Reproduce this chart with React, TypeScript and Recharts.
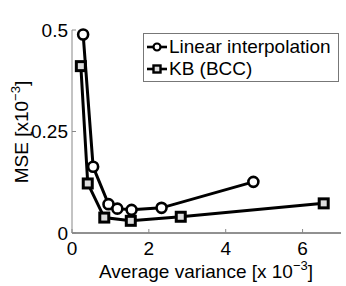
import { LineChart, Line, XAxis, YAxis, Legend } from "recharts";

const linearX = [0.29, 0.55, 0.95, 1.18, 1.55, 2.33, 4.72];
const linearMse = [0.489, 0.163, 0.071, 0.06, 0.057, 0.062, 0.126];
const kbX = [0.23, 0.41, 0.84, 1.53, 2.83, 6.55];
const kbMse = [0.411, 0.122, 0.038, 0.03, 0.04, 0.073];
const xTicks = [0, 2, 4, 6];
const yTicks = [0, 0.25, 0.5];

const linearData = linearX.map((x, i) => ({ x, y: linearMse[i] }));
const kbData = kbX.map((x, i) => ({ x, y: kbMse[i] }));

const FONT = "'Liberation Sans', Arial, Helvetica, sans-serif";
const tickStyle = { fontSize: 19, fill: "#000", fontFamily: FONT };

const Square = (props: any) => {
  const { cx, cy } = props;
  if (cx == null || cy == null) return null;
  return <rect x={cx - 4.5} y={cy - 4.5} width={9} height={9} fill="#ddd" stroke="#000" strokeWidth={3} />;
};

const CircleDot = (props: any) => {
  const { cx, cy } = props;
  if (cx == null || cy == null) return null;
  return <circle cx={cx} cy={cy} r={5} fill="#fff" stroke="#000" strokeWidth={2.6} />;
};

const LegendBox = () => (
  <div
    style={{
      border: "1px solid #777",
      background: "#fff",
      fontFamily: FONT,
      fontSize: 19,
      lineHeight: "22px",
      padding: "2px 2px 2px 3px",
      boxSizing: "border-box",
      width: 196,
      height: 49,
    }}
  >
    {[
      { name: "Linear interpolation", marker: "circle" },
      { name: "KB (BCC)", marker: "square" },
    ].map((item) => (
      <div key={item.name} style={{ display: "flex", alignItems: "center", height: 22 }}>
        <svg width={20} height={12} style={{ marginRight: 2 }}>
          <line x1={0} y1={6} x2={20} y2={6} stroke="#000" strokeWidth={2.6} />
          {item.marker === "circle" ? (
            <circle cx={10} cy={6} r={3.5} fill="#fff" stroke="#000" strokeWidth={2.2} />
          ) : (
            <rect x={6.5} y={2.5} width={7} height={7} fill="#ddd" stroke="#000" strokeWidth={2.4} />
          )}
        </svg>
        <span>{item.name}</span>
      </div>
    ))}
  </div>
);

export default function App() {
  return (
    <div style={{ position: "relative", width: 346, height: 286, background: "#fff" }}>
      <style>{"body{margin:0;}"}</style>
      <LineChart width={346} height={286} margin={{ top: 30, right: 5, left: 0, bottom: 0 }}>
        <XAxis
          xAxisId="bottom"
          type="number"
          dataKey="x"
          domain={[0, 7]}
          ticks={xTicks}
          height={53}
          tick={tickStyle}
          tickSize={-4}
          tickMargin={13}
          axisLine={{ stroke: "#222" }}
          tickLine={{ stroke: "#888" }}
        />
        <XAxis
          xAxisId="top"
          orientation="top"
          type="number"
          dataKey="x"
          domain={[0, 7]}
          ticks={xTicks}
          height={0}
          tick={false}
          tickSize={-4}
          axisLine={{ stroke: "#999" }}
          tickLine={{ stroke: "#888" }}
        />
        <YAxis
          yAxisId="left"
          type="number"
          domain={[0, 0.5]}
          ticks={yTicks}
          width={72}
          tick={tickStyle}
          tickSize={-4}
          tickMargin={8}
          tickFormatter={(v: number) => String(v)}
          axisLine={{ stroke: "#888" }}
          tickLine={{ stroke: "#888" }}
        />
        <YAxis
          yAxisId="right"
          orientation="right"
          type="number"
          domain={[0, 0.5]}
          ticks={yTicks}
          width={0}
          tick={false}
          tickSize={-4}
          axisLine={{ stroke: "#222" }}
          tickLine={{ stroke: "#888" }}
        />
        <Legend
          layout="vertical"
          align="center"
          verticalAlign="middle"
          content={<LegendBox />}
          wrapperStyle={{ left: 143, top: 33, width: 196, height: 49 }}
        />
        <Line
          xAxisId="bottom"
          yAxisId="left"
          data={linearData}
          dataKey="y"
          name="Linear interpolation"
          stroke="#000"
          strokeWidth={3}
          dot={<CircleDot />}
          isAnimationActive={false}
        />
        <Line
          xAxisId="bottom"
          yAxisId="left"
          data={kbData}
          dataKey="y"
          name="KB (BCC)"
          stroke="#000"
          strokeWidth={3}
          dot={<Square />}
          isAnimationActive={false}
        />
        <text
          x={206}
          y={278}
          textAnchor="middle"
          fontFamily={FONT}
          fontSize={19}
          fill="#000"
        >
          Average variance [x 10
          <tspan fontSize={13} dy={-8}>−3</tspan>
          <tspan dy={8}>]</tspan>
        </text>
        <text
          transform="translate(28,132) rotate(-90)"
          textAnchor="middle"
          fontFamily={FONT}
          fontSize={19}
          fill="#000"
        >
          MSE [x10
          <tspan fontSize={13} dy={-8}>−3</tspan>
          <tspan dy={8}>]</tspan>
        </text>
      </LineChart>
    </div>
  );
}
